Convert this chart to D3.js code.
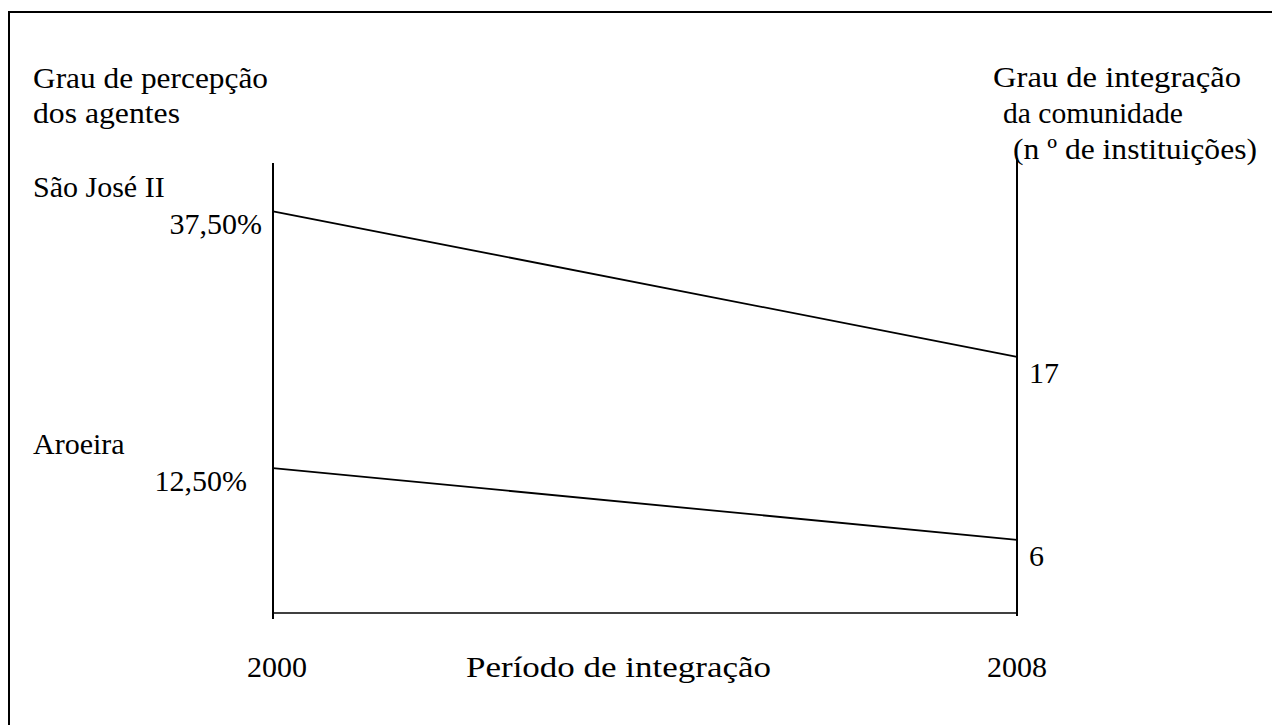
<!DOCTYPE html>
<html>
<head>
<meta charset="utf-8">
<script src="https://cdn.jsdelivr.net/npm/d3@7"></script>
<style>
  body { margin: 0; background: #fff; }
  svg text { font-family: "Liberation Serif", "Times New Roman", serif; font-size: 30px; fill: #000; }
</style>
</head>
<body>
<div id="chart"></div>
<script>
// dados
var years = [2000, 2008];
var communities = ["São José II", "Aroeira"];
var perception = [37.5, 12.5];          // % (2000)
var institutions = [17, 6];             // n º de instituições (2008)
var percLabels = ["37,50%", "12,50%"];
var leftTitle = ["Grau de percepção", "dos agentes"];
var rightTitle = ["Grau de integração", "da comunidade", "(n º de instituições)"];
var xTitle = "Período de integração";

var width = 1272, height = 725;

var svg = d3.select("#chart").append("svg")
  .attr("width", width)
  .attr("height", height);

// moldura
svg.append("rect")
  .attr("x", 9).attr("y", 12)
  .attr("width", width + 10).attr("height", height + 10)
  .attr("fill", "none").attr("stroke", "#000").attr("stroke-width", 2);

var x = d3.scaleLinear().domain(d3.extent(years)).range([273, 1017]);
var axTop = 163, axBottom = 613;
var yLeft = d3.scaleLinear().domain([-1.6, 42.2]).range([axBottom, axTop]);
var yRight = d3.scaleLinear().domain([1.6, 28.65]).range([axBottom, axTop]);

// eixos
svg.append("line")
  .attr("x1", x(2000)).attr("x2", x(2000))
  .attr("y1", axTop).attr("y2", axBottom + 6)
  .attr("stroke", "#000").attr("stroke-width", 2);
svg.append("line")
  .attr("x1", x(2008)).attr("x2", x(2008))
  .attr("y1", axTop - 5).attr("y2", axBottom + 3)
  .attr("stroke", "#000").attr("stroke-width", 2);
svg.append("line")
  .attr("x1", x(2000)).attr("x2", x(2008))
  .attr("y1", axBottom).attr("y2", axBottom)
  .attr("stroke", "#000").attr("stroke-width", 1.5);

// linhas
var data = communities.map((c, i) => ({
  name: c, start: perception[i], end: institutions[i], label: percLabels[i]
}));

svg.selectAll(".serie")
  .data(data)
  .enter().append("line")
  .attr("class", "serie")
  .attr("x1", x(years[0])).attr("y1", d => yLeft(d.start))
  .attr("x2", x(years[1])).attr("y2", d => yRight(d.end))
  .attr("stroke", "#000").attr("stroke-width", 1.8);

// rotulos esquerda
svg.selectAll(".nome")
  .data(data)
  .enter().append("text")
  .attr("x", 33)
  .attr("y", d => yLeft(d.start) - 14)
  .text(d => d.name);

var percOffsets = [11, 26];
svg.selectAll(".perc")
  .data(data)
  .enter().append("text")
  .attr("x", (d, i) => x(years[0]) - percOffsets[i])
  .attr("y", d => yLeft(d.start) + 23)
  .attr("text-anchor", "end")
  .text(d => d.label);

// rotulos direita
svg.selectAll(".inst")
  .data(data)
  .enter().append("text")
  .attr("x", x(years[1]) + 12)
  .attr("y", d => yRight(d.end) + 26)
  .text(d => d.end);

// titulos
var leftLens = [235, 147];
svg.selectAll(".lt")
  .data(leftTitle)
  .enter().append("text")
  .attr("x", 33)
  .attr("y", (d, i) => 88 + i * 35)
  .attr("textLength", (d, i) => leftLens[i])
  .attr("lengthAdjust", "spacingAndGlyphs")
  .text(d => d);

var rightX = [993, 1003, 1013], rightLens = [248, 180, 244];
svg.selectAll(".rt")
  .data(rightTitle)
  .enter().append("text")
  .attr("x", (d, i) => rightX[i])
  .attr("y", (d, i) => 87 + i * 36)
  .attr("textLength", (d, i) => rightLens[i])
  .attr("lengthAdjust", "spacingAndGlyphs")
  .text(d => d);

svg.selectAll(".ano")
  .data(years)
  .enter().append("text")
  .attr("x", d => x(d) + (d === 2000 ? 4 : 0))
  .attr("y", 677)
  .attr("text-anchor", "middle")
  .text(d => d);

svg.append("text")
  .attr("x", 466)
  .attr("y", 677)
  .attr("textLength", 305)
  .attr("lengthAdjust", "spacingAndGlyphs")
  .text(xTitle);
</script>
</body>
</html>
